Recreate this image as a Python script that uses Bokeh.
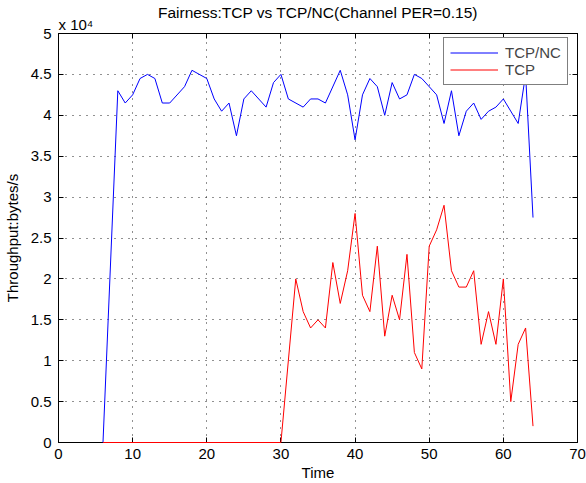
from bokeh.plotting import figure
from bokeh.models import (Range1d, LinearAxis, Legend, LegendItem, FixedTicker, Title,
                          CustomJSTickFormatter)
from bokeh.embed import file_html
from bokeh.resources import INLINE

# Data (throughput in bytes/s)
t_nc = [6, 8, 9, 10, 11, 12, 13, 14, 15, 17, 18, 20, 21, 22, 23, 24, 25, 26, 28, 29, 30,
        31, 33, 34, 35, 36, 38, 39, 40, 41, 42, 43, 44, 45, 46, 47, 48, 49, 51, 52, 53,
        54, 55, 56, 57, 58, 59, 60, 62, 63, 64]
tcp_nc = [0, 43000, 41500, 42500, 44500, 45000, 44500, 41500, 41500, 43500, 45500, 44500,
          42000, 40500, 41500, 37500, 42000, 43000, 41000, 44000, 45000,
          42000, 41000, 42000, 42000, 41500, 45500, 42500, 37000, 42500, 44500, 43500,
          40000, 44000, 42000, 42500, 45000, 44500, 42500, 39000, 43000,
          37500, 40500, 41500, 39500, 40500, 41000, 42000, 39000, 45000, 27500]

t_tcp = [6, 30, 32, 33, 34, 35, 36, 37, 38, 39, 40, 41, 42, 43, 44, 45, 46, 47, 48, 49, 50,
         51, 52, 53, 54, 55, 56, 57, 58, 59, 60, 61, 62, 63, 64]
tcp = [0, 0, 20000, 16000, 14000, 15000, 14000, 22000, 17000, 21000, 28000, 18000, 16000,
       24000, 13000, 18000, 15000, 23000, 11000, 9000, 24000, 26000, 29000, 21000, 19000,
       19000, 21000, 12000, 16000, 12000, 20000, 5000, 12000, 14000, 2000]

x_ticks = [0, 10, 20, 30, 40, 50, 60, 70]
y_ticks = [0, 0.5, 1, 1.5, 2, 2.5, 3, 3.5, 4, 4.5, 5]
y_tick_labels = ["0", "0.5", "1", "1.5", "2", "2.5", "3", "3.5", "4", "4.5", "5"]
scale = 1e4
title_text = "Fairness:TCP vs TCP/NC(Channel PER=0.15)"
multiplier_text = "x 10\u2074"

FONT = "Liberation Sans"

p = figure(width=586, height=483, output_backend="svg", toolbar_location=None,
           title=None,
           x_range=Range1d(0, 70), y_range=Range1d(0, 5),
           min_border_left=58, min_border_right=9, min_border_top=33, min_border_bottom=41)

p.outline_line_color = "black"
p.outline_line_width = 1
p.outline_line_alpha = 1

r1 = p.line(t_nc, [v / scale for v in tcp_nc], line_color="#0000ff", line_width=1, level="overlay")
r2 = p.line(t_tcp, [v / scale for v in tcp], line_color="#ff0000", line_width=1, level="overlay")

for ax in (p.xaxis[0], p.yaxis[0]):
    ax.major_tick_in = 5
    ax.major_tick_out = 0
    ax.minor_tick_in = 0
    ax.minor_tick_out = 0
    ax.axis_line_color = "black"
    ax.major_label_text_font = FONT
    ax.major_label_text_font_size = "15px"
    ax.major_label_text_color = "black"
    ax.axis_label_text_font = FONT
    ax.axis_label_text_font_size = "15px"
    ax.axis_label_text_font_style = "normal"
    ax.axis_label_text_color = "black"

p.xaxis[0].ticker = FixedTicker(ticks=x_ticks)
p.yaxis[0].ticker = FixedTicker(ticks=y_ticks)
p.yaxis[0].major_label_overrides = {t: s for t, s in zip(y_ticks, y_tick_labels)}
p.xaxis[0].axis_label = "Time"
p.yaxis[0].axis_label = "Throughput:bytes/s"
p.xaxis[0].major_label_standoff = 6
p.xaxis[0].axis_label_standoff = 2
p.yaxis[0].major_label_standoff = 7
p.yaxis[0].axis_label_standoff = 7

blank = CustomJSTickFormatter(code="return ''")
top = LinearAxis(ticker=FixedTicker(ticks=x_ticks), formatter=blank,
                 major_tick_in=5, major_tick_out=0, minor_tick_in=0, minor_tick_out=0,
                 axis_line_color="black", major_label_standoff=0,
                 major_label_text_font_size="1px")
right = LinearAxis(ticker=FixedTicker(ticks=y_ticks), formatter=blank,
                   major_tick_in=5, major_tick_out=0, minor_tick_in=0, minor_tick_out=0,
                   axis_line_color="black", major_label_standoff=0,
                   major_label_text_font_size="1px")
p.add_layout(top, "above")
p.add_layout(right, "right")

mult = Title(text=multiplier_text, align="left", text_font=FONT, text_font_size="15px",
             text_font_style="normal", text_color="black", standoff=1, offset=0)
main = Title(text=title_text, align="center", text_font=FONT, text_font_size="15.5px",
             text_font_style="normal", text_color="black", standoff=-15, offset=0)
p.add_layout(mult, "above")
p.add_layout(main, "above")

p.xgrid.ticker = FixedTicker(ticks=x_ticks)
p.ygrid.ticker = FixedTicker(ticks=y_ticks)
for g in (p.xgrid[0], p.ygrid[0]):
    g.grid_line_color = "#222222"
    g.grid_line_dash = "1 6"
    g.grid_line_width = 1

legend = Legend(items=[LegendItem(label="TCP/NC", renderers=[r1]),
                       LegendItem(label="TCP", renderers=[r2])],
                location=(385, 357), margin=0, padding=6, spacing=0,
                label_text_font=FONT, label_text_font_size="15px",
                label_standoff=7,
                glyph_width=48, glyph_height=15, label_height=15,
                border_line_color="black", border_line_width=1,
                background_fill_alpha=1)
p.add_layout(legend)

html = file_html(p, INLINE)
open("out.html", "w").write(html)
